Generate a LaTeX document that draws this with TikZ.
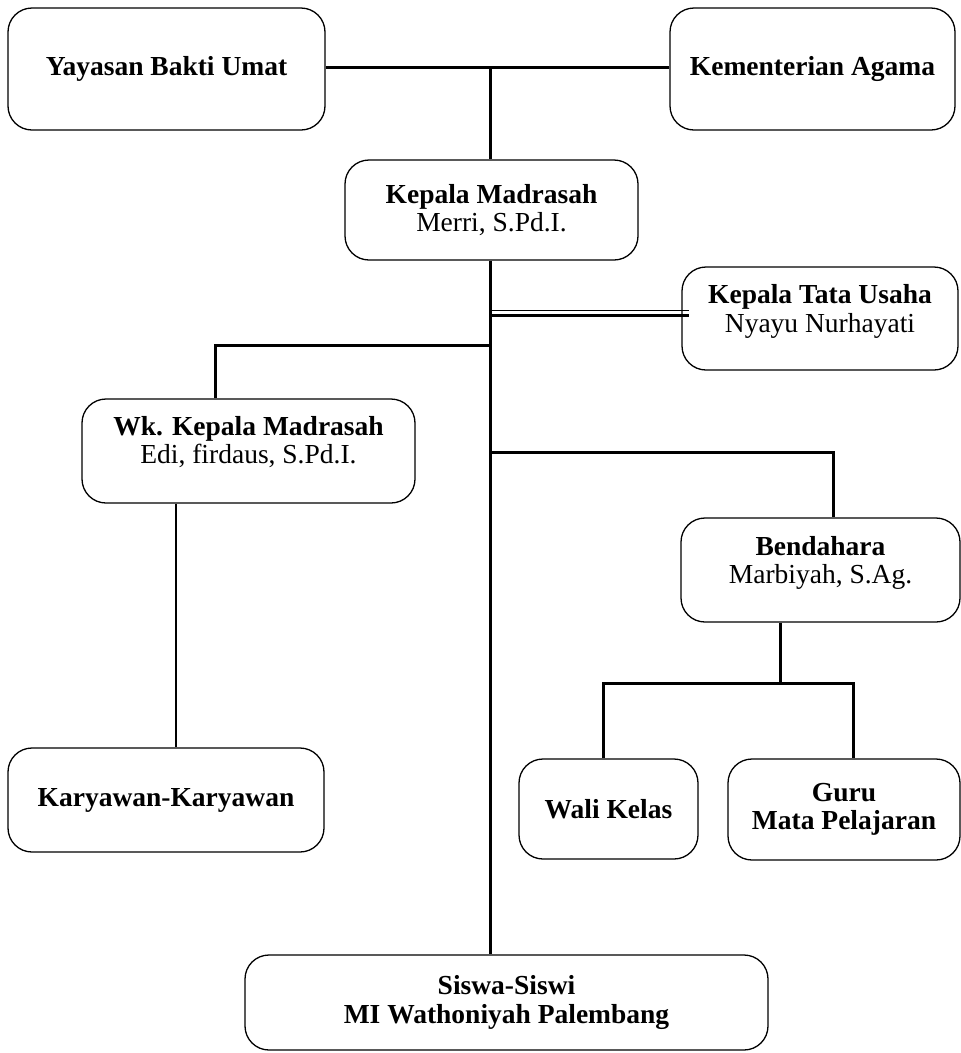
\documentclass[tikz,border=0pt]{standalone}
\usepackage{fontspec}
\setmainfont{Liberation Serif}
\newcommand{\rtxt}[2]{\raisebox{#1}[\height][\depth]{\begin{tabular}{@{}c@{}}#2\end{tabular}}}
\begin{document}
\begin{tikzpicture}[x=1pt,y=-1pt,
  box/.style={draw, rounded corners=24pt, line width=1.3pt, align=center, inner sep=0pt,
    font=\fontsize{27.5}{28.5}\selectfont},
  conn/.style={line width=3pt},
  thinline/.style={line width=1pt}]
\useasboundingbox (0,0) rectangle (961,1053);
\fill[white] (0,0) rectangle (961,1053);

\node[box, minimum width=317pt, minimum height=122pt] (yay) at (166.5,69) {\textbf{Yayasan Bakti Umat}};
\node[box, minimum width=285pt, minimum height=122pt] (kem) at (812.5,69) {\textbf{Kementerian Agama}};
\node[box, minimum width=293pt, minimum height=100pt] (kep) at (491.5,210) {\textbf{Kepala Madrasah}\\Merri, S.Pd.I.};
\node[box, minimum width=276pt, minimum height=103pt] (ktu) at (820,318.5) {\rtxt{6pt}{\textbf{Kepala Tata Usaha}\\Nyayu Nurhayati}};
\node[box, minimum width=333pt, minimum height=104pt] (wk) at (248.5,451) {\rtxt{7pt}{\textbf{Wk. Kepala Madrasah}\\Edi, firdaus, S.Pd.I.}};
\node[box, minimum width=279pt, minimum height=104pt] (ben) at (820.5,570) {\rtxt{6pt}{\textbf{Bendahara}\\Marbiyah, S.Ag.}};
\node[box, minimum width=316pt, minimum height=104pt] (kar) at (166,800) {\textbf{Karyawan-Karyawan}};
\node[box, minimum width=179pt, minimum height=100pt] (wal) at (608.5,809) {\textbf{Wali Kelas}};
\node[box, minimum width=232pt, minimum height=101pt] (gur) at (844,809.5) {\textbf{Guru}\\\textbf{Mata Pelajaran}};
\node[box, minimum width=523pt, minimum height=95pt] (sis) at (506.5,1002.5) {\textbf{Siswa-Siswi}\\\textbf{MI Wathoniyah Palembang}};

\coordinate (tx) at (490,0);
\coordinate (jtop) at (490,67);
\coordinate (jktu) at (490,313);
\coordinate (jwk) at (490,345);
\coordinate (jben) at (490,452);
\coordinate (jgw) at (780,683);

% top
\draw[conn] (yay.east |- jtop) -- (kem.west |- jtop);
\draw[conn] (jtop) -- (kep.north -| tx);
% trunk
\draw[conn] (kep.south -| tx) -- (sis.north -| tx);
% tata usaha double line
\draw[thinline] ([yshift=3pt]jktu) -- ([xshift=8pt,yshift=3pt]ktu.west |- jktu);
\draw[conn] ([yshift=-2pt]jktu) -- ([xshift=8pt,yshift=-2pt]ktu.west |- jktu);
% wakil
\draw[conn] (jwk) -| (wk.north -| 215,0);
\draw[line width=1.6pt] (wk.south -| 176,0) -- (kar.north -| 176,0);
% bendahara
\draw[conn] (jben) -| (ben.north -| 833,0);
\draw[conn] (ben.south -| jgw) -- (jgw);
\draw[conn] (wal.north -| 603,0) |- (jgw) -| (gur.north -| 853,0);
\end{tikzpicture}
\end{document}
